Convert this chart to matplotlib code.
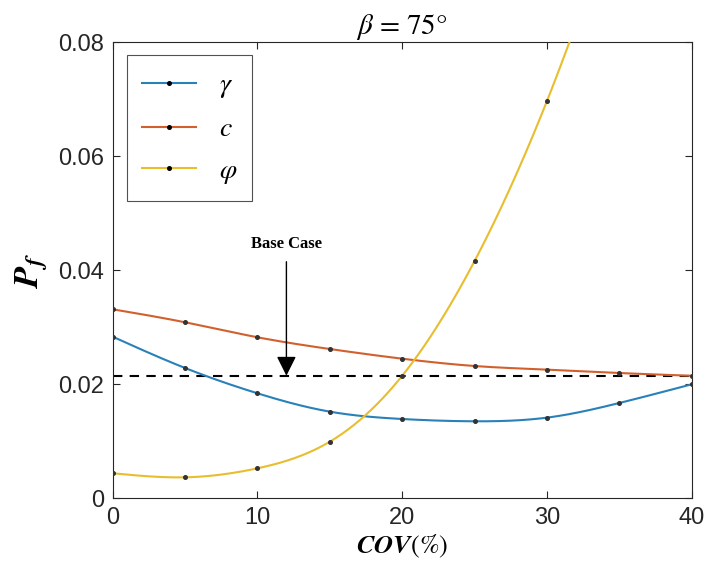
import numpy as np
import matplotlib
matplotlib.use("Agg")
import matplotlib.pyplot as plt
from matplotlib.ticker import FixedLocator, FuncFormatter

cov = [0, 5, 10, 15, 20, 25, 30, 35, 40]
pf_gamma = [0.02835, 0.02286, 0.01842, 0.01520, 0.01391, 0.01351, 0.01415, 0.01672, 0.02000]
pf_c = [0.03316, 0.03088, 0.02825, 0.02619, 0.02449, 0.02321, 0.02257, 0.02198, 0.02150]
pf_phi = [0.00439, 0.00368, 0.00526, 0.00993, 0.02150, 0.04163, 0.06970, 0.1060, 0.1500]
base_case = 0.0215
base_cov = 12
labels = [r"$\gamma$", r"$c$", r"$\varphi$"]
colors = ["#2a80b9", "#d2602e", "#e8bd2e"]
xticks = [0, 10, 20, 30, 40]
yticks = [0, 0.02, 0.04, 0.06, 0.08]


def natural_spline(x, y, xs):
    x = np.asarray(x, float); y = np.asarray(y, float)
    n = len(x)
    h = np.diff(x)
    A = np.zeros((n, n)); b = np.zeros(n)
    A[0, 0] = 1; A[-1, -1] = 1
    for i in range(1, n - 1):
        A[i, i - 1] = h[i - 1]
        A[i, i] = 2 * (h[i - 1] + h[i])
        A[i, i + 1] = h[i]
        b[i] = 3 * ((y[i + 1] - y[i]) / h[i] - (y[i] - y[i - 1]) / h[i - 1])
    cc = np.linalg.solve(A, b)
    bb = (y[1:] - y[:-1]) / h - h * (2 * cc[:-1] + cc[1:]) / 3
    dd = (cc[1:] - cc[:-1]) / (3 * h)
    idx = np.clip(np.searchsorted(x, xs) - 1, 0, n - 2)
    t = xs - x[idx]
    return y[idx] + bb[idx] * t + cc[idx] * t ** 2 + dd[idx] * t ** 3


plt.rcParams["mathtext.fontset"] = "stix"
fig = plt.figure(figsize=(7.07, 5.78), dpi=100)
ax = fig.add_axes([0.1594, 0.1379, 0.819, 0.7889])

xs = np.linspace(0, 40, 400)
handles = []
for ys, col, lab in zip([pf_gamma, pf_c, pf_phi], colors, labels):
    ax.plot(xs, natural_spline(cov, ys, xs), color=col, lw=1.5, zorder=3)
    ax.plot(cov, ys, ls="none", marker="o", ms=2.6, mfc="#333333", mec="#333333", zorder=4)
    h, = ax.plot([], [], color=col, lw=1.5, marker="o", ms=2.6, mfc="black", mec="black")
    handles.append(h)

ax.plot([0, 40], [base_case, base_case], color="black", lw=1.5, ls=(0, (4.5, 3.5)), zorder=2)
ax.annotate("", xy=(base_cov, base_case), xytext=(base_cov, 0.0415),
            arrowprops=dict(arrowstyle="-|>,head_length=1.2,head_width=0.6",
                            color="black", lw=1.0, shrinkA=0, shrinkB=0))
ax.text(base_cov, 0.0447, "Base Case", ha="center", va="center",
        fontsize=12, fontweight="bold", family="Liberation Serif")

ax.set_xlim(0, 40)
ax.set_ylim(0, 0.08)
ax.xaxis.set_major_locator(FixedLocator(xticks))
ax.yaxis.set_major_locator(FixedLocator(yticks))
ax.yaxis.set_major_formatter(FuncFormatter(lambda v, p: "0" if v == 0 else f"{v:.2f}"))
ax.tick_params(direction="in", length=5, width=0.8, top=True, right=True,
               labelsize=17, colors="#262626", pad=6)
for lbl in ax.get_xticklabels() + ax.get_yticklabels():
    lbl.set_family("Liberation Sans")
for s in ax.spines.values():
    s.set_color("#262626"); s.set_linewidth(0.8)

ax.set_title(r"$\beta$ = 75°", fontsize=21, family="STIXGeneral", pad=6)
ax.set_ylabel(r"$\mathbfit{P_f}$", fontsize=25, labelpad=6)
ax.set_xlabel(r"$\mathbfit{COV}$(%)", fontsize=19, family="STIXGeneral", labelpad=3)

leg = ax.legend(handles, labels, loc="upper left", bbox_to_anchor=(0.0247, 0.972),
                fontsize=20, frameon=True, fancybox=False, edgecolor="#262626",
                handlelength=1.95, labelspacing=0.5, borderpad=0.55, handletextpad=0.8,
                borderaxespad=0)
leg.get_frame().set_linewidth(0.8)

fig.savefig("out.png", dpi=100)
